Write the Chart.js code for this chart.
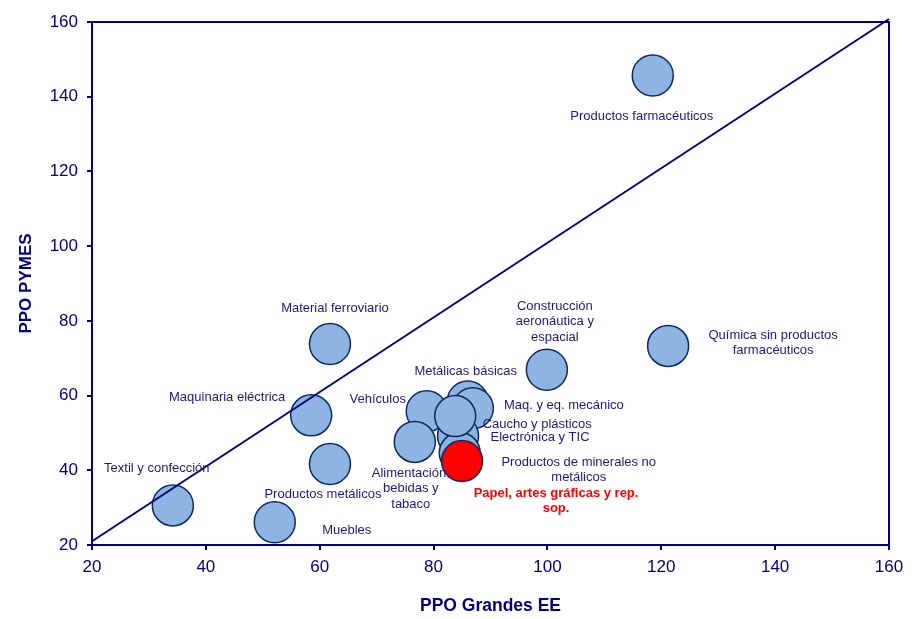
<!DOCTYPE html>
<html lang="es">
<head>
<meta charset="utf-8">
<title>PPO PYMES vs PPO Grandes EE</title>
<script src="https://cdn.jsdelivr.net/npm/chart.js@4.4.1/dist/chart.umd.min.js"></script>
<style>
  html, body { margin: 0; padding: 0; background: #fff; }
  #chart { display: block; }
</style>
</head>
<body>
<canvas id="chart" width="917" height="619"></canvas>
<script>
// sectores (azul) + sector destacado (rojo)
const sectors = [
  "Textil y confección",
  "Muebles",
  "Productos metálicos",
  "Maquinaria eléctrica",
  "Material ferroviario",
  "Vehículos",
  "Metálicas básicas",
  "Maq. y eq. mecánico",
  "Electrónica y TIC",
  "Productos de minerales no|metálicos",
  "Caucho y plásticos",
  "Alimentación,|bebidas y|tabaco",
  "Construcción|aeronáutica y|espacial",
  "Química sin productos|farmacéuticos",
  "Productos farmacéuticos",
];
const ppoGrandes = [34.2, 52.1, 61.8, 58.5, 61.8, 78.8, 86.0, 86.9, 84.3, 84.6, 83.8, 76.7, 99.9, 121.2, 118.5];
const ppoPymes = [30.6, 26.1, 41.7, 54.7, 73.8, 55.8, 58.4, 56.6, 49.2, 44.6, 54.5, 47.6, 66.9, 73.3, 145.7];

const highlightSector = "Papel, artes gráficas y rep.|sop.";
const highlightGrandes = [85.0];
const highlightPymes = [42.5];

// diagonal de referencia
const diagX = [20, 160];
const diagY = [21, 160.8];

const xTicks = [20, 40, 60, 80, 100, 120, 140, 160];
const yTicks = [20, 40, 60, 80, 100, 120, 140, 160];

// desplazamiento de cada etiqueta respecto a su burbuja (px)
const labelOffsets = [
  [-16, -37], [72, 8], [-7, 30], [-84, -18], [5, -36],
  [-49, -12], [-2, -30], [91, -3], [82, 2], [119, 17],
  [82, 8], [-4, 47], [8, -48], [105, -3], [-11, 41],
];
const highlightOffset = [94, 40];

const NAVY = "#000080";
const FONT = "'Liberation Sans', Arial, sans-serif";

const toPoints = (xs, ys) => xs.map((x, i) => ({ x, y: ys[i] }));

const frameAndLabels = {
  id: "frameAndLabels",
  afterDatasetsDraw(chart) {
    const { ctx, chartArea } = chart;
    ctx.save();
    ctx.strokeStyle = NAVY;
    ctx.lineWidth = 2;
    ctx.beginPath();
    ctx.moveTo(chartArea.left, chartArea.top);
    ctx.lineTo(chartArea.right, chartArea.top);
    ctx.lineTo(chartArea.right, chartArea.bottom);
    ctx.stroke();

    const drawLabel = (text, el, off, color, bold) => {
      const lines = text.split("|");
      const lh = 15.5;
      ctx.fillStyle = color;
      ctx.font = `${bold ? "bold " : ""}13px ${FONT}`;
      ctx.textAlign = "center";
      ctx.textBaseline = "middle";
      const cx = el.x + off[0];
      const cy = el.y + off[1] - ((lines.length - 1) * lh) / 2;
      lines.forEach((ln, i) => ctx.fillText(ln, cx, cy + i * lh));
    };

    chart.getDatasetMeta(1).data.forEach((el, i) => {
      drawLabel(sectors[i], el, labelOffsets[i], "#1a1a80", false);
    });
    chart.getDatasetMeta(2).data.forEach((el) => {
      drawLabel(highlightSector, el, highlightOffset, "#ff0000", true);
    });
    ctx.restore();
  },
};

new Chart(document.getElementById("chart"), {
  type: "scatter",
  data: {
    datasets: [
      {
        type: "line",
        data: toPoints(diagX, diagY),
        borderColor: NAVY,
        borderWidth: 2,
        pointRadius: 0,
        fill: false,
        clip: false,
        order: 0,
      },
      {
        data: toPoints(ppoGrandes, ppoPymes),
        backgroundColor: "#8db4e2",
        borderColor: "#0d2a5e",
        borderWidth: 1.5,
        pointRadius: 20.5,
        pointHoverRadius: 20.5,
        order: 2,
      },
      {
        data: toPoints(highlightGrandes, highlightPymes),
        backgroundColor: "#ff0000",
        borderColor: "#0d2a5e",
        borderWidth: 1.5,
        pointRadius: 20.5,
        pointHoverRadius: 20.5,
        order: 1,
      },
    ],
  },
  options: {
    responsive: false,
    animation: false,
    layout: { padding: { top: 17, right: 28, left: 0, bottom: 0 } },
    plugins: { legend: { display: false }, tooltip: { enabled: false } },
    scales: {
      x: {
        type: "linear",
        min: 20,
        max: 160,
        afterBuildTicks: (scale) => { scale.ticks = xTicks.map((v) => ({ value: v })); },
        afterFit: (scale) => { scale.height = 74; },
        ticks: { color: NAVY, font: { family: FONT, size: 17 }, padding: 7, maxRotation: 0 },
        grid: { drawOnChartArea: false, drawTicks: true, tickLength: 5, color: NAVY, lineWidth: 2 },
        border: { color: NAVY, width: 2 },
        title: {
          display: true,
          text: "PPO Grandes EE",
          color: NAVY,
          font: { family: FONT, size: 17.5, weight: "bold" },
          padding: { top: 0, bottom: 2 },
        },
      },
      y: {
        type: "linear",
        min: 20,
        max: 160,
        afterBuildTicks: (scale) => { scale.ticks = yTicks.map((v) => ({ value: v })); },
        afterFit: (scale) => { scale.width = 92; },
        ticks: { color: NAVY, font: { family: FONT, size: 17 }, padding: 9 },
        grid: { drawOnChartArea: false, drawTicks: true, tickLength: 5, color: NAVY, lineWidth: 2 },
        border: { color: NAVY, width: 2 },
        title: {
          display: true,
          text: "PPO PYMES",
          color: NAVY,
          font: { family: FONT, size: 17, weight: "bold" },
          padding: { top: 16, bottom: 0 },
        },
      },
    },
  },
  plugins: [frameAndLabels],
});
</script>
</body>
</html>
